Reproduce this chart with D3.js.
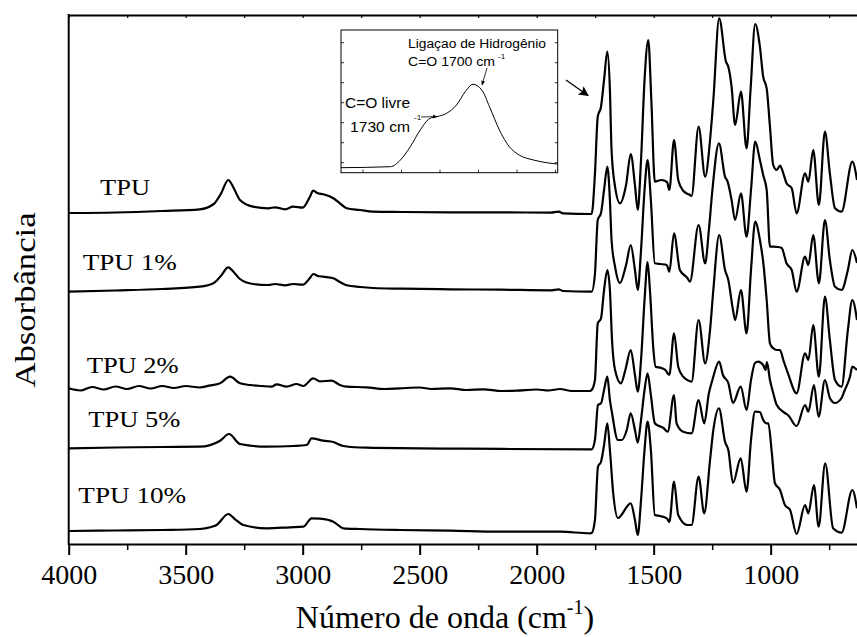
<!DOCTYPE html>
<html><head><meta charset="utf-8">
<script src="https://cdn.jsdelivr.net/npm/d3@7"></script>
<style>
html,body{margin:0;padding:0;background:#fff;}
svg{display:block;}
</style></head>
<body>
<svg id="chart" width="857" height="637"></svg>
<script>
// ---------- DATA (wavenumber cm^-1, absorbance a.u., stacked) ----------
const seriesNames = ["TPU", "TPU 1%", "TPU 2%", "TPU 5%", "TPU 10%"];
const majorTicks = [4000, 3500, 3000, 2500, 2000, 1500, 1000];
const minorTicks = [3750, 3250, 2750, 2250, 1750, 1250, 750];

const tpu0 = [[4000,3.31],[3800,3.315],[3600,3.33],[3440,3.347],[3380,3.40],[3350,3.50],[3318,3.64],[3295,3.56],[3268,3.44],[3212,3.373],[3147,3.357],[3118,3.367],[3075,3.347],[3041,3.373],[3000,3.363],[2969,3.473],[2955,3.533],[2935,3.507],[2912,3.497],[2869,3.457],[2841,3.407],[2812,3.357],[2755,3.34],[2700,3.323],[2580,3.32],[2370,3.317],[2150,3.317],[1940,3.313],[1906,3.323],[1887,3.307],[1765,3.30],[1751,3.70],[1739,4.273],[1725,4.373],[1712,4.64],[1698,4.923],[1687,4.54],[1680,3.94],[1665,3.573],[1644,3.407],[1618,3.59],[1598,3.90],[1580,3.59],[1568,3.34],[1554,3.84],[1539,4.64],[1523,5.04],[1510,4.44],[1495,3.623],[1467,3.64],[1443,3.62],[1433,3.54],[1413,4.04],[1395,3.64],[1374,3.533],[1345,3.49],[1338,3.48],[1308,4.173],[1280,3.673],[1259,4.04],[1245,4.44],[1220,5.257],[1191,4.823],[1181,4.773],[1167,4.573],[1152,4.19],[1127,4.523],[1103,3.957],[1086,4.54],[1066,5.20],[1046,4.973],[1032,4.673],[1017,4.557],[1003,4.173],[989,3.79],[974,3.74],[960,3.783],[946,3.707],[932,3.607],[910,3.557],[889,3.307],[853,3.707],[839,3.623],[818,3.94],[794,3.39],[768,4.123],[747,3.707],[725,3.357],[697,3.323],[651,3.823],[631,3.64]];

const tpu1 = [[4000,2.523],[3800,2.535],[3600,2.55],[3440,2.573],[3380,2.61],[3350,2.68],[3318,2.767],[3295,2.72],[3268,2.65],[3212,2.60],[3147,2.59],[3118,2.60],[3075,2.587],[3041,2.60],[3000,2.593],[2969,2.66],[2955,2.70],[2935,2.68],[2912,2.673],[2869,2.657],[2841,2.62],[2812,2.587],[2755,2.57],[2700,2.56],[2580,2.553],[2370,2.547],[2150,2.543],[1940,2.537],[1906,2.547],[1887,2.53],[1765,2.523],[1751,2.70],[1739,3.24],[1725,3.31],[1712,3.54],[1698,3.773],[1687,3.44],[1680,3.04],[1665,2.773],[1644,2.61],[1618,2.79],[1598,2.99],[1580,2.74],[1568,2.54],[1554,2.94],[1539,3.54],[1526,3.84],[1512,3.44],[1495,2.807],[1473,2.80],[1444,2.79],[1433,2.723],[1413,3.107],[1388,2.74],[1356,2.66],[1345,2.623],[1308,3.19],[1280,2.807],[1264,3.14],[1249,3.54],[1221,4.007],[1195,3.673],[1184,3.623],[1167,3.44],[1152,3.24],[1127,3.507],[1103,3.073],[1084,3.54],[1066,4.023],[1046,3.84],[1032,3.69],[1017,3.54],[1003,2.973],[989,2.973],[969,2.97],[953,2.96],[932,2.807],[910,2.74],[889,2.523],[853,2.873],[839,2.79],[818,3.09],[794,2.607],[768,3.24],[747,2.84],[725,2.573],[697,2.54],[670,2.74],[651,2.94],[631,2.81]];

const tpu2 = [[4000,1.557],[3950,1.535],[3900,1.57],[3850,1.545],[3800,1.575],[3750,1.55],[3700,1.58],[3650,1.555],[3600,1.58],[3550,1.56],[3500,1.58],[3440,1.565],[3400,1.583],[3353,1.607],[3310,1.673],[3268,1.607],[3225,1.59],[3175,1.58],[3133,1.573],[3111,1.597],[3068,1.573],[3026,1.60],[2997,1.58],[2955,1.657],[2926,1.627],[2876,1.633],[2841,1.59],[2812,1.573],[2727,1.567],[2650,1.55],[2584,1.557],[2500,1.565],[2450,1.55],[2370,1.557],[2300,1.54],[2228,1.547],[2150,1.53],[2086,1.533],[2000,1.545],[1950,1.535],[1900,1.55],[1850,1.53],[1772,1.53],[1765,1.54],[1751,1.64],[1739,2.207],[1725,2.257],[1712,2.54],[1698,2.74],[1687,2.54],[1678,2.04],[1665,1.74],[1640,1.607],[1621,1.74],[1598,1.94],[1580,1.69],[1568,1.523],[1554,1.84],[1539,2.44],[1526,2.82],[1516,2.54],[1501,1.94],[1492,1.773],[1467,1.76],[1450,1.74],[1433,1.69],[1413,2.107],[1395,1.773],[1374,1.673],[1356,1.64],[1338,1.623],[1308,2.24],[1280,1.807],[1259,2.14],[1245,2.54],[1220,3.09],[1195,2.74],[1181,2.64],[1161,2.34],[1152,2.24],[1127,2.54],[1103,2.107],[1084,2.74],[1066,3.223],[1046,3.04],[1032,2.823],[1017,2.44],[1003,2.007],[989,1.957],[974,1.94],[960,1.94],[946,1.84],[926,1.707],[889,1.507],[853,1.907],[839,1.84],[818,2.19],[794,1.673],[768,2.473],[747,2.04],[725,1.64],[697,1.573],[670,2.14],[651,2.44],[631,2.24]];

const tpu5 = [[4000,0.957],[3800,0.965],[3600,0.97],[3440,0.973],[3353,1.033],[3315,1.10],[3268,1.00],[3154,0.973],[3040,0.98],[2983,0.99],[2962,1.057],[2912,1.033],[2869,1.02],[2826,0.98],[2727,0.963],[2299,0.953],[1772,0.947],[1765,0.947],[1751,1.04],[1738,1.39],[1725,1.407],[1712,1.54],[1698,1.673],[1687,1.44],[1678,1.31],[1653,1.04],[1636,1.04],[1615,1.14],[1598,1.307],[1580,1.14],[1568,1.013],[1554,1.24],[1539,1.54],[1526,1.707],[1512,1.49],[1495,1.207],[1477,1.18],[1458,1.16],[1440,1.123],[1413,1.49],[1402,1.207],[1374,1.123],[1338,1.107],[1308,1.44],[1284,1.207],[1264,1.507],[1249,1.64],[1220,1.823],[1204,1.69],[1181,1.61],[1161,1.41],[1128,1.573],[1103,1.34],[1084,1.64],[1067,1.81],[1054,1.823],[1032,1.79],[1022,1.74],[1016,1.82],[1003,1.64],[989,1.51],[974,1.39],[939,1.31],[926,1.29],[889,1.18],[853,1.39],[839,1.323],[815,1.59],[795,1.273],[768,1.64],[747,1.46],[725,1.41],[697,1.46],[683,1.54],[661,1.673],[651,1.773],[631,1.74]];

const tpu10 = [[4000,0.13],[3800,0.135],[3600,0.14],[3440,0.15],[3395,0.167],[3368,0.19],[3318,0.30],[3289,0.247],[3254,0.19],[3154,0.157],[3054,0.167],[2997,0.173],[2962,0.257],[2926,0.253],[2869,0.223],[2826,0.157],[2755,0.15],[2584,0.14],[2370,0.133],[2157,0.123],[1900,0.123],[1772,0.107],[1765,0.11],[1751,0.24],[1738,0.773],[1725,0.823],[1712,0.99],[1698,1.207],[1687,0.94],[1673,0.51],[1653,0.26],[1598,0.407],[1580,0.24],[1568,0.09],[1554,0.44],[1539,0.94],[1526,1.223],[1512,0.94],[1495,0.29],[1473,0.28],[1444,0.257],[1433,0.22],[1413,0.623],[1395,0.29],[1356,0.19],[1338,0.19],[1308,0.673],[1284,0.307],[1259,0.84],[1245,1.14],[1221,1.357],[1195,1.023],[1181,0.94],[1161,0.61],[1128,0.857],[1103,0.523],[1084,1.04],[1067,1.323],[1046,1.32],[1032,1.24],[1017,1.207],[1010,1.207],[995,0.91],[982,0.61],[960,0.54],[939,0.39],[917,0.34],[889,0.10],[853,0.39],[839,0.307],[815,0.59],[795,0.173],[767,0.807],[733,0.157],[697,0.113],[651,0.54],[631,0.357]];

// inset: carbonyl band detail
const insetWn  = [1820,1775,1766,1757,1748,1739,1733,1724,1715,1707,1700,1692,1685,1676,1667,1658,1645,1633,1623];
const insetAbs = [0.05,0.06,0.127,0.26,0.427,0.544,0.56,0.594,0.677,0.81,0.884,0.827,0.66,0.427,0.26,0.177,0.127,0.10,0.087];

// label anchors in data space (wavenumber, absorbance)
const labelAnchors = [[3866,3.49],[3940,2.74],[3923,1.707],[3916,1.173],[3959,0.407]];

// ---------- CHART ----------
const svg = d3.select("#chart");
const L = 68.7, R = 857, T = 15, B = 544;
const x = d3.scaleLinear().domain([4000, 631]).range([L, R]);
const y = d3.scaleLinear().domain([0, 5.29]).range([B, T]);

const defs = svg.append("defs");
defs.append("clipPath").attr("id","clip")
  .append("rect").attr("x",L).attr("y",T).attr("width",R-L).attr("height",B-T);

const line = d3.line().x(d=>x(d[0])).y(d=>y(d[1])).curve(d3.curveMonotoneX);
const all = [tpu0,tpu1,tpu2,tpu5,tpu10];
svg.append("g").attr("clip-path","url(#clip)")
  .selectAll("path").data(all).join("path")
  .attr("d", line).attr("fill","none").attr("stroke","#000")
  .attr("stroke-width",2.2).attr("stroke-linejoin","round");

// axes
const serif = "'Liberation Serif','Times New Roman',serif";
const gMaj = svg.append("g").attr("transform",`translate(0,${B})`)
  .call(d3.axisBottom(x).tickValues(majorTicks).tickSize(11).tickSizeOuter(0).tickFormat(d3.format("d")));
gMaj.select(".domain").attr("stroke-width",2);
gMaj.selectAll(".tick line").attr("stroke-width",2);
gMaj.selectAll(".tick text").attr("font-family",serif).attr("font-size",28).attr("fill","#000").attr("y",20).attr("dy","0.71em");
const gMin = svg.append("g").attr("transform",`translate(0,${B})`)
  .call(d3.axisBottom(x).tickValues(minorTicks).tickSize(6).tickSizeOuter(0).tickFormat(""));
gMin.select(".domain").remove();
gMin.selectAll(".tick line").attr("stroke-width",1.5);

const gTop = svg.append("g").attr("transform",`translate(0,${T})`)
  .call(d3.axisTop(x).tickValues(majorTicks.concat(minorTicks)).tickSize(-3).tickSizeOuter(0).tickFormat(""));
gTop.select(".domain").attr("stroke-width",2);
gTop.selectAll(".tick line").attr("stroke-width",1.2);

svg.append("line").attr("x1",L).attr("x2",L).attr("y1",T-1).attr("y2",B+1)
  .attr("stroke","#000").attr("stroke-width",2);

// axis titles
const xt = svg.append("text").attr("x",445).attr("y",628).attr("text-anchor","middle")
  .attr("font-family",serif).attr("font-size",32);
xt.append("tspan").text("Número de onda (cm");
xt.append("tspan").attr("font-size",20).attr("dy",-14).text("-1");
xt.append("tspan").attr("dy",14).text(")");

svg.append("text").attr("transform","translate(35,300) rotate(-90)")
  .attr("text-anchor","middle").attr("font-family",serif).attr("font-size",29)
  .attr("textLength",175).attr("lengthAdjust","spacingAndGlyphs").text("Absorbância");

// series labels
const labelWidths = [50, 94, 92, 92, 108];
svg.selectAll("text.lab").data(seriesNames).join("text").attr("class","lab")
  .attr("x",(d,i)=>x(labelAnchors[i][0])).attr("y",(d,i)=>y(labelAnchors[i][1]))
  .attr("font-family",serif).attr("font-size",23)
  .attr("textLength",(d,i)=>labelWidths[i]).attr("lengthAdjust","spacingAndGlyphs")
  .text(d=>d);

// inset
const xi = d3.scaleLinear().domain([1820,1623]).range([341,557.7]);
const yi = d3.scaleLinear().domain([0,1.427]).range([172.7,30]);
const gi = svg.append("g");
gi.append("rect").attr("x",341).attr("y",30).attr("width",216.7).attr("height",142.7)
  .attr("fill","#fff").attr("stroke","#000").attr("stroke-width",1);
const inTicksX = d3.range(1800,1623,-35);
gi.selectAll("line.itx").data(inTicksX).join("line").attr("class","itx")
  .attr("x1",d=>xi(d)).attr("x2",d=>xi(d)).attr("y1",172.7).attr("y2",169.7).attr("stroke","#000").attr("stroke-width",0.8);
const inTicksY = d3.range(0.1,1.427,0.2);
[341,557.7].forEach((xx,k)=>{
  gi.selectAll("line.ity"+k).data(inTicksY).join("line").attr("class","ity"+k)
    .attr("x1",xx).attr("x2",k?xx-3:xx+3).attr("y1",d=>yi(d)).attr("y2",d=>yi(d)).attr("stroke","#000").attr("stroke-width",0.8);
});
const inData = insetWn.map((w,i)=>[w,insetAbs[i]]);
gi.append("path").datum(inData)
  .attr("d", d3.line().x(d=>xi(d[0])).y(d=>yi(d[1])).curve(d3.curveMonotoneX))
  .attr("fill","none").attr("stroke","#000").attr("stroke-width",1);

const sans = "'Liberation Sans',Arial,sans-serif";
gi.append("text").attr("x",408).attr("y",48).attr("font-family",sans).attr("font-size",12)
  .attr("textLength",138).attr("lengthAdjust","spacingAndGlyphs").text("Ligaçao de Hidrogênio");
gi.append("text").attr("x",408).attr("y",66).attr("font-family",sans).attr("font-size",12)
  .attr("textLength",87).attr("lengthAdjust","spacingAndGlyphs").text("C=O 1700 cm");
gi.append("text").attr("x",498).attr("y",59).attr("font-family",sans).attr("font-size",8).text("-1");
gi.append("text").attr("x",345).attr("y",108).attr("font-family",sans).attr("font-size",14)
  .attr("textLength",65).attr("lengthAdjust","spacingAndGlyphs").text("C=O livre");
gi.append("text").attr("x",350).attr("y",132).attr("font-family",sans).attr("font-size",14)
  .attr("textLength",60).attr("lengthAdjust","spacingAndGlyphs").text("1730 cm");
gi.append("text").attr("x",414).attr("y",120).attr("font-family",sans).attr("font-size",8).text("-1");

defs.append("marker").attr("id","ah").attr("viewBox","0 0 10 10").attr("refX",9).attr("refY",5)
  .attr("markerWidth",6).attr("markerHeight",6).attr("orient","auto")
  .append("path").attr("d","M0,1 L10,5 L0,9 Z").attr("fill","#000");
defs.append("marker").attr("id","ahBig").attr("viewBox","0 0 10 10").attr("refX",9).attr("refY",5)
  .attr("markerUnits","userSpaceOnUse").attr("markerWidth",13).attr("markerHeight",10).attr("orient","auto")
  .append("path").attr("d","M0,0 L10,5 L0,10 L2,5 Z").attr("fill","#000");

gi.append("line").attr("x1",421).attr("y1",117).attr("x2",437).attr("y2",116.5)
  .attr("stroke","#000").attr("stroke-width",0.8).attr("marker-end","url(#ah)");
gi.append("line").attr("x1",487).attr("y1",68).attr("x2",482).attr("y2",85)
  .attr("stroke","#000").attr("stroke-width",0.8).attr("marker-end","url(#ah)");

svg.append("line").attr("x1",566).attr("y1",80).attr("x2",588).attr("y2",95.5)
  .attr("stroke","#000").attr("stroke-width",1.3).attr("marker-end","url(#ahBig)");
</script>
</body></html>
